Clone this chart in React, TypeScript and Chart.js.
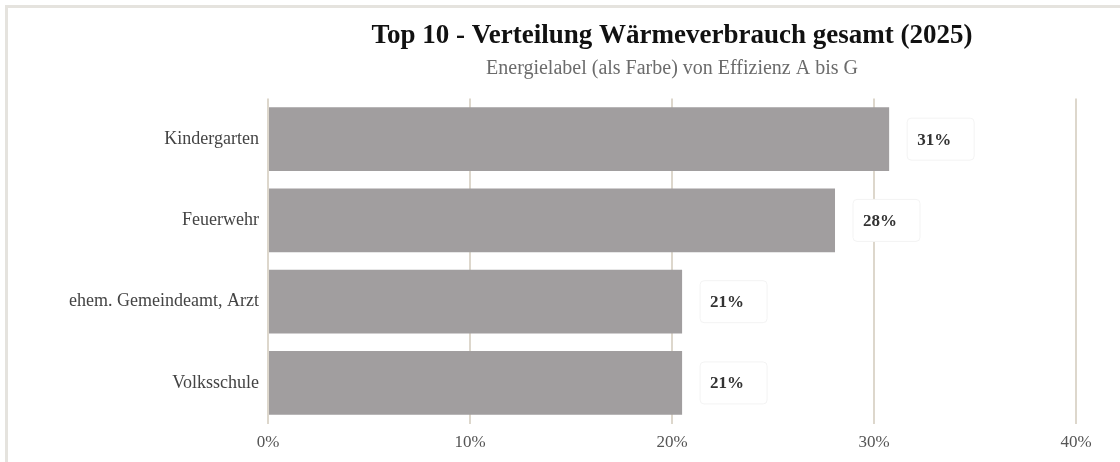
import React, { useEffect, useRef } from "react";
import { Chart, registerables } from "chart.js";

Chart.register(...registerables);

const categories = ["Kindergarten", "Feuerwehr", "ehem. Gemeindeamt, Arzt", "Volksschule"];
const shares = [30.75, 28.07, 20.5, 20.5];
const xTicks = [0, 10, 20, 30, 40];
const titleText = "Top 10 - Verteilung Wärmeverbrauch gesamt (2025)";
const subtitleText = "Energielabel (als Farbe) von Effizienz A bis G";

const SERIF = '"Liberation Serif", "Times New Roman", serif';

const labelPlugin = {
  id: "barValueLabels",
  afterDatasetsDraw(chart: any) {
    const ctx = chart.ctx;
    const meta = chart.getDatasetMeta(0);
    meta.data.forEach((bar: any, i: number) => {
      const text = Math.round(shares[i]) + "%";
      const bx = bar.x + 18;
      const by = bar.y - 21;
      const w = 67;
      const h = 42;
      const r = 4;
      ctx.save();
      ctx.beginPath();
      ctx.moveTo(bx + r, by);
      ctx.lineTo(bx + w - r, by);
      ctx.quadraticCurveTo(bx + w, by, bx + w, by + r);
      ctx.lineTo(bx + w, by + h - r);
      ctx.quadraticCurveTo(bx + w, by + h, bx + w - r, by + h);
      ctx.lineTo(bx + r, by + h);
      ctx.quadraticCurveTo(bx, by + h, bx, by + h - r);
      ctx.lineTo(bx, by + r);
      ctx.quadraticCurveTo(bx, by, bx + r, by);
      ctx.closePath();
      ctx.fillStyle = "#ffffff";
      ctx.fill();
      ctx.strokeStyle = "#f3f3f3";
      ctx.lineWidth = 1;
      ctx.stroke();
      ctx.font = "bold 17px " + SERIF;
      ctx.fillStyle = "#333333";
      ctx.textAlign = "left";
      ctx.textBaseline = "middle";
      ctx.fillText(text, bx + 10, bar.y + 1);
      ctx.restore();
    });
  },
};

export default function App() {
  const canvasRef = useRef<HTMLCanvasElement | null>(null);

  useEffect(() => {
    const canvas = canvasRef.current;
    if (!canvas) return;
    const chart = new Chart(canvas, {
      type: "bar",
      data: {
        labels: categories,
        datasets: [
          {
            data: shares,
            backgroundColor: "#a19e9f",
            borderWidth: 0,
            barPercentage: 0.785,
            categoryPercentage: 1,
          },
        ],
      },
      options: {
        indexAxis: "y",
        responsive: false,
        animation: false,
        devicePixelRatio: 1,
        layout: { padding: { left: 0, right: 44, top: 12, bottom: 0 } },
        plugins: {
          legend: { display: false },
          tooltip: { enabled: false },
          title: {
            display: true,
            text: titleText,
            fullSize: false,
            color: "#111111",
            font: { family: SERIF, size: 27, weight: "bold" },
            padding: { top: 7.8, bottom: 0 },
          },
          subtitle: {
            display: true,
            text: subtitleText,
            fullSize: false,
            color: "#6b6b6b",
            font: { family: SERIF, size: 20 },
            padding: { top: 4.8, bottom: 17.5 },
          },
        },
        scales: {
          x: {
            type: "linear",
            min: xTicks[0],
            max: xTicks[xTicks.length - 1],
            afterBuildTicks: (scale: any) => {
              scale.ticks = xTicks.map((v) => ({ value: v }));
            },
            ticks: {
              callback: (v: any) => v + "%",
              color: "#555555",
              font: { family: SERIF, size: 17 },
              padding: 9,
              maxRotation: 0,
            },
            grid: {
              color: "#ddd7cc",
              lineWidth: 2,
              drawTicks: false,
            },
            border: { display: false },
          },
          y: {
            afterFit: (scale: any) => {
              scale.width = 268;
            },
            ticks: {
              color: "#444444",
              font: { family: SERIF, size: 18 },
              padding: 9,
            },
            grid: { display: false, drawTicks: false },
            border: { display: false },
          },
        },
      },
      plugins: [labelPlugin],
    });
    return () => chart.destroy();
  }, []);

  return (
    <div>
      <div
        style={{
          position: "fixed",
          left: 5,
          top: 5,
          width: 1115,
          height: 457,
          borderTop: "3px solid #e5e3de",
          borderLeft: "3px solid #e5e3de",
          boxSizing: "border-box",
        }}
      />
      <canvas
        ref={canvasRef}
        width={1120}
        height={462}
        style={{ position: "fixed", left: 0, top: 0, width: 1120, height: 462 }}
      />
    </div>
  );
}
